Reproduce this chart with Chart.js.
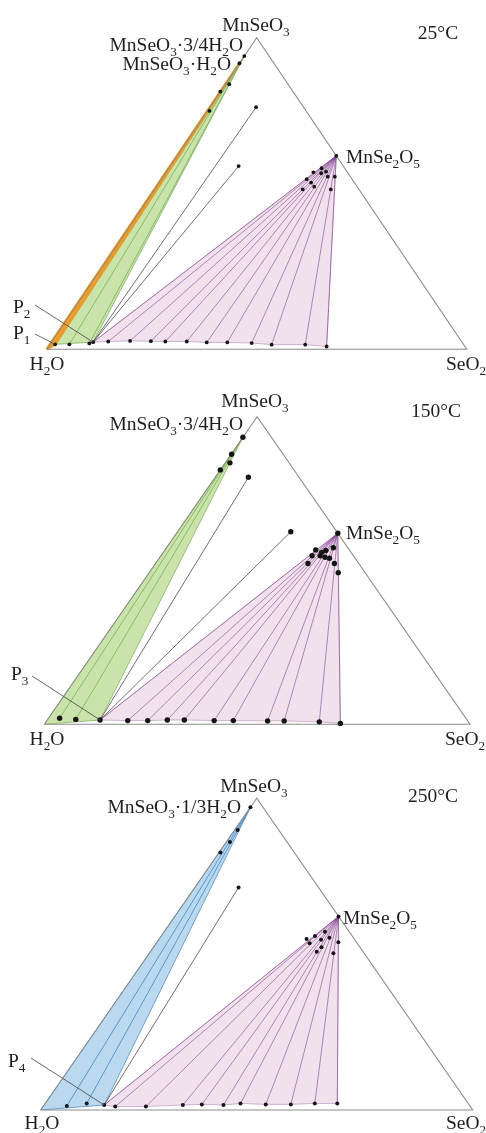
<!DOCTYPE html>
<html><head><meta charset="utf-8">
<script src="https://cdn.jsdelivr.net/npm/chart.js@4.4.1/dist/chart.umd.min.js"></script>
<style>
html,body{margin:0;padding:0;background:#fff;}
body{width:486px;height:1133px;position:relative;overflow:hidden;}
canvas{position:absolute;left:0;}
</style></head><body>
<canvas id="c1" width="486" height="380" style="top:0px"></canvas>
<canvas id="c2" width="486" height="380" style="top:380px"></canvas>
<canvas id="c3" width="486" height="373" style="top:760px"></canvas>
<script>
// Compositions: [SeO2 wt%, MnSeO3 wt%]; H2O is the remainder
const V_H2O = [0, 0];
const V_SeO2 = [100, 0];
const V_MnSeO3 = [0, 100];
const V_MnSe2O5 = [37.9, 62.1];

// ---- 25 °C ----
const t25_solidH2O = [0, 91.8];      // MnSeO3·H2O
const t25_solid34 = [0, 94.1];       // MnSeO3·3/4H2O
const t25_P1 = [1.2, 1.6];
const t25_P2 = [9.9, 2.3];
const t25_hydrateLiquid = [[4.6, 1.6], [9.2, 1.9]];
const t25_fanLiquid = [[13.4, 2.5], [18.5, 2.7], [23.5, 2.6], [27.0, 2.5], [32.1, 2.5], [37.0, 2.2], [41.9, 2.2], [47.8, 2.0], [52.8, 1.5], [60.8, 1.5], [66.2, 0.9]];
const t25_edgeResidues = [[0.9, 85.1], [0.0, 82.7], [0.5, 76.5]];
const t25_freeEnds = [[11.0, 77.7], [16.3, 58.8]];
const t25_fanResidues = [[36.4, 58.1], [38.0, 57.0], [37.1, 56.5], [35.1, 56.8], [39.2, 55.4], [40.9, 55.4], [34.6, 54.6], [36.2, 53.5], [37.6, 52.2], [35.3, 51.3], [42.0, 51.3]];

// ---- 150 °C ----
const t150_solid34 = [0, 93.3];      // MnSeO3·3/4H2O
const t150_P3 = [12.4, 1.4];
const t150_hydrateLiquid = [[2.6, 2.0], [6.6, 1.6]];
const t150_fanLiquid = [[19.0, 1.2], [23.7, 1.2], [28.2, 1.4], [32.2, 1.4], [39.3, 1.2], [43.8, 1.2], [51.9, 1.1], [55.8, 1.1], [64.2, 0.8], [69.4, 0.3]];
const t150_edgeResidues = [[0.1, 87.8], [1.1, 85.0], [0.0, 82.7]];
const t150_freeEnds = [[7.8, 80.3], [26.6, 62.6]];
const t150_fanResidues = [[35.4, 56.7], [37.2, 55.9], [37.9, 56.5], [39.2, 57.4], [35.5, 54.8], [37.4, 54.8], [38.8, 54.3], [40.0, 54.0], [35.8, 52.3], [42.0, 52.3], [44.4, 49.3]];

// ---- 250 °C ----
const t250_solid13 = [0, 97.1];      // MnSeO3·1/3H2O
const t250_P4 = [13.9, 1.6];
const t250_hydrateLiquid = [[5.4, 1.3], [9.6, 2.1]];
const t250_fanLiquid = [[16.7, 1.1], [23.8, 1.1], [32.1, 1.6], [36.4, 1.8], [41.5, 1.6], [45.2, 2.1], [51.2, 1.8], [57.0, 1.8], [62.4, 2.1], [67.6, 2.1]];
const t250_edgeResidues = [[0.7, 89.8], [0.8, 86.0], [0.3, 82.6]];
const t250_freeEnds = [[10.1, 71.4]];
const t250_fanResidues = [[34.1, 54.9], [35.5, 53.5], [35.6, 55.8], [37.6, 54.6], [37.2, 57.2], [39.2, 55.3], [42.0, 53.8], [38.5, 50.8], [38.9, 52.2], [42.6, 50.3]];

// ---------- helpers ----------
function tx(p) { return { x: (p[0] + p[1] / 2) / 100, y: p[1] / 100 }; }
function seg(a, b, color, width, order) {
  return { data: [tx(a), tx(b)], showLine: true, borderColor: color, borderWidth: width, pointRadius: 0, fill: false, order: order, clip: false };
}
function poly(pts, fillColor, borderColor, order, bw) {
  const d = pts.map(tx); d.push(tx(pts[0]));
  return { data: d, showLine: true, fill: 'shape', backgroundColor: fillColor, borderColor: borderColor, borderWidth: bw || 0.8, borderJoinStyle: 'round', pointRadius: 0, order: order, clip: false };
}
function dots(pts, r) {
  return { data: pts.map(tx), showLine: false, pointRadius: r, pointBackgroundColor: '#151515', pointBorderColor: '#151515', pointBorderWidth: 0, order: 1, clip: false };
}
function outline() {
  return { data: [V_H2O, V_SeO2, V_MnSeO3, V_H2O].map(tx), showLine: true, borderColor: '#8c8c8c', borderWidth: 1.1, pointRadius: 0, fill: false, order: 3, clip: false };
}

const FONT = '"Liberation Serif","Times New Roman",serif';
function drawRich(ctx, str, x, y, align, size) {
  const parts = [];
  for (let i = 0; i < str.length; i++) {
    if (str[i] === '_' && i + 1 < str.length) { parts.push({ t: str[i + 1], sub: true }); i++; }
    else parts.push({ t: str[i], sub: false });
  }
  const subSize = size * 0.68;
  let total = 0;
  parts.forEach(p => { ctx.font = (p.sub ? subSize : size) + 'px ' + FONT; p.w = ctx.measureText(p.t).width; total += p.w; });
  let cx = align === 'center' ? x - total / 2 : (align === 'right' ? x - total : x);
  ctx.textBaseline = 'middle';
  ctx.textAlign = 'left';
  parts.forEach(p => {
    ctx.font = (p.sub ? subSize : size) + 'px ' + FONT;
    ctx.fillText(p.t, cx, p.sub ? y + size * 0.33 : y);
    cx += p.w;
  });
}

const labelPlugin = {
  id: 'tern',
  afterDatasetsDraw(chart, args, opts) {
    const ctx = chart.ctx;
    const xs = chart.scales.x, ys = chart.scales.y;
    ctx.save();
    (opts.items || []).forEach(it => {
      if (it.leader) {
        const p = tx(it.leader);
        ctx.strokeStyle = '#555';
        ctx.lineWidth = 0.9;
        ctx.beginPath();
        ctx.moveTo(it.lx, it.ly);
        ctx.lineTo(xs.getPixelForValue(p.x), ys.getPixelForValue(p.y));
        ctx.stroke();
      }
      ctx.fillStyle = '#1e1e1e';
      drawRich(ctx, it.text, it.x, it.y, it.align, it.size || 19.5);
    });
    ctx.restore();
  }
};

const PINK = 'rgba(232,206,226,0.62)';
const PURPLE = 'rgba(125,60,140,0.68)';
const GREEN_FILL = 'rgba(192,222,156,0.85)';
const GREEN_LINE = '#80b55e';
const ORANGE_FILL = '#f0a030';
const BLUE_FILL = 'rgba(178,213,236,0.9)';
const BLUE_LINE = '#4f8dcc';
const GRAY_LINE = '#606060';

function makeChart(id, datasets, padding, items) {
  return new Chart(document.getElementById(id), {
    type: 'scatter',
    data: { datasets: datasets },
    options: {
      responsive: false, animation: false, devicePixelRatio: 1, events: [],
      layout: { padding: padding },
      scales: {
        x: { type: 'linear', min: 0, max: 1, display: false },
        y: { type: 'linear', min: 0, max: 1, display: false }
      },
      plugins: { legend: { display: false }, tooltip: { enabled: false }, tern: { items: items } }
    },
    plugins: [labelPlugin]
  });
}

// ---------- 25 °C ----------
(function () {
  const ds = [];
  ds.push(poly([V_MnSe2O5, t25_P2].concat(t25_fanLiquid), PINK, 'rgba(160,110,170,0.6)', 10));
  ds.push(poly([t25_P1, t25_P2, t25_solid34], GREEN_FILL, GREEN_LINE, 11));
  ds.push(poly([V_H2O, t25_P1, t25_solidH2O], ORANGE_FILL, '#eb9a26', 9, 2.6));
  t25_hydrateLiquid.forEach(p => ds.push(seg(p, t25_solid34, GREEN_LINE, 0.9, 6)));
  [t25_P2].concat(t25_fanLiquid).forEach(p => ds.push(seg(p, V_MnSe2O5, PURPLE, 0.85, 5)));
  t25_freeEnds.forEach(p => ds.push(seg(t25_P2, p, GRAY_LINE, 0.9, 5)));
  ds.push(outline());
  ds.push(dots([t25_P1, t25_P2].concat(t25_hydrateLiquid, t25_fanLiquid, t25_edgeResidues, t25_freeEnds, t25_fanResidues, [t25_solidH2O, t25_solid34, V_MnSe2O5]), 1.9));
  makeChart('c1', ds, { left: 46.7, right: 19.3, top: 37.7, bottom: 30.7 }, [
    { text: 'MnSeO_3', x: 256, y: 26, align: 'center' },
    { text: '25°C', x: 438, y: 34, align: 'center' },
    { text: 'MnSeO_3·3/4H_2O', x: 243, y: 46, align: 'right' },
    { text: 'MnSeO_3·H_2O', x: 231, y: 65, align: 'right' },
    { text: 'MnSe_2O_5', x: 346, y: 158, align: 'left' },
    { text: 'H_2O', x: 47, y: 365, align: 'center' },
    { text: 'SeO_2', x: 466, y: 365, align: 'center' },
    { text: 'P_2', x: 13, y: 308, align: 'left', leader: t25_P2, lx: 35, ly: 305 },
    { text: 'P_1', x: 13, y: 334, align: 'left', leader: t25_P1, lx: 35, ly: 334 }
  ]);
})();

// ---------- 150 °C ----------
(function () {
  const ds = [];
  ds.push(poly([V_MnSe2O5, t150_P3].concat(t150_fanLiquid), PINK, 'rgba(160,110,170,0.6)', 10));
  ds.push(poly([V_H2O, t150_P3, t150_solid34], GREEN_FILL, GREEN_LINE, 11));
  t150_hydrateLiquid.forEach(p => ds.push(seg(p, t150_solid34, GREEN_LINE, 0.9, 6)));
  [t150_P3].concat(t150_fanLiquid).forEach(p => ds.push(seg(p, V_MnSe2O5, PURPLE, 0.85, 5)));
  t150_freeEnds.forEach(p => ds.push(seg(t150_P3, p, GRAY_LINE, 0.9, 5)));
  ds.push(outline());
  ds.push(dots([t150_P3].concat(t150_hydrateLiquid, t150_fanLiquid, t150_edgeResidues, t150_freeEnds, t150_fanResidues, [t150_solid34, V_MnSe2O5]), 2.7));
  makeChart('c2', ds, { left: 44.3, right: 16, top: 36.7, bottom: 35.7 }, [
    { text: 'MnSeO_3', x: 255, y: 22, align: 'center' },
    { text: '150°C', x: 436, y: 32, align: 'center' },
    { text: 'MnSeO_3·3/4H_2O', x: 243, y: 45, align: 'right' },
    { text: 'MnSe_2O_5', x: 346, y: 154, align: 'left' },
    { text: 'H_2O', x: 47, y: 360, align: 'center' },
    { text: 'SeO_2', x: 465, y: 360, align: 'center' },
    { text: 'P_3', x: 11, y: 295, align: 'left', leader: t150_P3, lx: 32, ly: 296 }
  ]);
})();

// ---------- 250 °C ----------
(function () {
  const ds = [];
  ds.push(poly([V_MnSe2O5, t250_P4].concat(t250_fanLiquid), PINK, 'rgba(160,110,170,0.6)', 10));
  ds.push(poly([V_H2O, t250_P4, t250_solid13], BLUE_FILL, BLUE_LINE, 11));
  t250_hydrateLiquid.forEach(p => ds.push(seg(p, t250_solid13, BLUE_LINE, 0.9, 6)));
  [t250_P4].concat(t250_fanLiquid).forEach(p => ds.push(seg(p, V_MnSe2O5, PURPLE, 0.85, 5)));
  t250_freeEnds.forEach(p => ds.push(seg(t250_P4, p, GRAY_LINE, 0.9, 5)));
  ds.push(outline());
  ds.push(dots([t250_P4].concat(t250_hydrateLiquid, t250_fanLiquid, t250_edgeResidues, t250_freeEnds, t250_fanResidues, [t250_solid13, V_MnSe2O5]), 2.0));
  makeChart('c3', ds, { left: 40.7, right: 13.3, top: 38.3, bottom: 23 }, [
    { text: 'MnSeO_3', x: 254, y: 27, align: 'center' },
    { text: '250°C', x: 433, y: 37, align: 'center' },
    { text: 'MnSeO_3·1/3H_2O', x: 241, y: 48, align: 'right' },
    { text: 'MnSe_2O_5', x: 343, y: 159, align: 'left' },
    { text: 'H_2O', x: 42, y: 364, align: 'center' },
    { text: 'SeO_2', x: 466, y: 364, align: 'center' },
    { text: 'P_4', x: 8, y: 302, align: 'left', leader: t250_P4, lx: 31, ly: 298 }
  ]);
})();
</script>
</body></html>
